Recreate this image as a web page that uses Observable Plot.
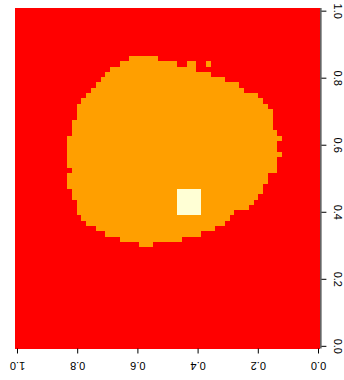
<!DOCTYPE html>
<html><head><meta charset="utf-8">
<script src="https://cdn.jsdelivr.net/npm/d3@7"></script>
<script src="https://cdn.jsdelivr.net/npm/@observablehq/plot@0.6"></script>
<style>body{margin:0;background:#fff;font-family:"Liberation Sans",Arial,sans-serif}</style>
</head><body><div id="chart"></div>
<script>
// image grid (64 x 64): column i -> x = i/63, row j -> y = j/63
const nCols = 64, nRows = 64;
const xTicks = [0, 0.2, 0.4, 0.6, 0.8, 1.0];
const yTicks = [0, 0.2, 0.4, 0.6, 0.8, 1.0];
const levelColors = ["#FF0000", "#FF9F00", "#FFFFD5"];

// level-1 (orange) runs: row, first column, last column
const runRow   = [54, 53, 53, 53, 52, 51, 50, 49, 48, 47, 46, 45, 44, 43, 42, 41, 40, 39, 38, 37, 36, 35, 34, 33, 32, 31, 30, 29, 28, 27, 26, 25, 24, 23, 22, 21, 20, 19];
const runStart = [34, 30, 26, 23, 26, 23, 20, 17, 16, 13, 12, 11, 10, 10, 10, 10,  9,  8,  9,  9,  8,  9,  9,  9, 11, 11, 12, 12, 13, 14, 15, 18, 19, 20, 22, 25, 29, 35];
const runEnd   = [39, 41, 27, 23, 43, 44, 45, 46, 47, 48, 49, 50, 50, 50, 51, 51, 51, 52, 52, 52, 52, 52, 52, 51, 52, 52, 52, 51, 51, 50, 50, 50, 49, 48, 46, 44, 41, 37];

// level-2 (pale) block: rows and columns (inclusive)
const hotRows = [25, 29];
const hotCols = [25, 29];

const dx = 1 / (nCols - 1), dy = 1 / (nRows - 1);
const cellRect = (r0, r1, c0, c1) => ({x1: (c0 - 0.5) * dx, x2: (c1 + 0.5) * dx, y1: (r0 - 0.5) * dy, y2: (r1 + 0.5) * dy});

const background = [cellRect(0, nRows - 1, 0, nCols - 1)];
const runs = runRow.map((r, k) => cellRect(r, r, runStart[k], runEnd[k]));
const hot = [cellRect(hotRows[0], hotRows[1], hotCols[0], hotCols[1])];

const fmt = d3.format(".1f");
const chart = Plot.plot({
  width: 344, height: 380,
  marginLeft: 14.6, marginRight: 23.6, marginTop: 8, marginBottom: 31.5,
  x: {domain: [1 + dx / 2, -dx / 2]},
  y: {domain: [-dy / 2, 1 + dy / 2]},
  style: {fontFamily: "Liberation Sans, Arial, sans-serif", background: "white"},
  marks: [
    Plot.rect(background, {x1: "x1", x2: "x2", y1: "y1", y2: "y2", fill: levelColors[0], shapeRendering: "crispEdges"}),
    Plot.rect(runs, {x1: "x1", x2: "x2", y1: "y1", y2: "y2", fill: levelColors[1], shapeRendering: "crispEdges"}),
    Plot.rect(hot, {x1: "x1", x2: "x2", y1: "y1", y2: "y2", fill: levelColors[2], shapeRendering: "crispEdges"}),
    Plot.ruleX([-dx / 2], {y1: -dy / 2, y2: 1 + dy / 2, stroke: "black"}),
    Plot.axisX({anchor: "bottom", ticks: xTicks, tickSize: 5, tickFormat: () => "", stroke: "black"}),
    Plot.axisY({anchor: "right", ticks: yTicks, tickSize: 5, tickFormat: () => "", stroke: "black"}),
    Plot.text(xTicks, {x: d => d, frameAnchor: "bottom", dy: 17, rotate: 180, text: d => fmt(d), fontSize: 11, fill: "black", textAnchor: "middle", lineAnchor: "middle"}),
    Plot.text(yTicks, {y: d => d, frameAnchor: "right", dx: 17, rotate: 90, text: d => fmt(d), fontSize: 11, fill: "black", textAnchor: "middle", lineAnchor: "middle"})
  ]
});
document.getElementById("chart").appendChild(chart);
</script>
</body></html>
